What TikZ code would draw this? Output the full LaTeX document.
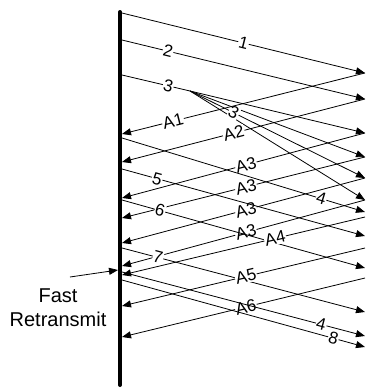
\documentclass[tikz,border=0pt]{standalone}
\usepackage{fontspec}
\setmainfont{Liberation Sans}
\usetikzlibrary{arrows.meta}

\begin{document}
\begin{tikzpicture}[
    x=1pt, y=-1pt,
    timeline/.style={line width=4pt, line cap=round, draw=black},
    msg/.style={-{Triangle[length=9pt, width=7pt]}, line width=0.8pt, draw=black},
    plain/.style={line width=0.8pt, draw=black},
    seglabel/.style={fill=white, inner sep=0.6pt, sloped, font=\fontsize{17}{17}\selectfont},
    note/.style={align=center, font=\fontsize{20}{24}\selectfont}
]
    \useasboundingbox (0,0) rectangle (366,389);

    % Sender time line
    \coordinate (top) at (120,12);
    \coordinate (bottom) at (120,385);
    \draw[timeline] (top) -- (bottom);

    % Sender side: data departures
    \coordinate (s1) at (122,13);
    \coordinate (s2) at (122,40);
    \coordinate (s3) at (122,75);
    \coordinate (s4) at (122,138);
    \coordinate (s5) at (122,169);
    \coordinate (s6) at (122,200);
    \coordinate (s7) at (122,248);
    \coordinate (s4r) at (122,272);
    \coordinate (s8) at (122,280);

    % Sender side: ack arrivals
    \coordinate (a1) at (122,134);
    \coordinate (a2) at (122,162);
    \coordinate (a3a) at (122,198);
    \coordinate (a3b) at (122,218);
    \coordinate (a3c) at (122,243);
    \coordinate (a3d) at (122,266);
    \coordinate (a4) at (122,275);
    \coordinate (a5) at (122,306);
    \coordinate (a6) at (122,337);

    % Receiver side: data arrivals
    \coordinate (r1) at (365,73);
    \coordinate (r2) at (365,99);
    \coordinate (r3a) at (365,133);
    \coordinate (r3b) at (365,157);
    \coordinate (r3c) at (365,178);
    \coordinate (r3d) at (365,200);
    \coordinate (r4) at (365,212);
    \coordinate (r5) at (365,236);
    \coordinate (r6) at (365,268);
    \coordinate (r7) at (365,312);
    \coordinate (r4r) at (365,336);
    \coordinate (r8) at (365,347);

    % Receiver side: later acks
    \coordinate (k4) at (365,217);
    \coordinate (k5) at (365,248);
    \coordinate (k6) at (365,278);

    % Segment 3 gets duplicated
    \coordinate (dup) at (190,91);

    % Data segments
    \draw[msg] (s1) -- node[seglabel, pos=0.5] {1} (r1);
    \draw[msg] (s2) -- node[seglabel, pos=0.19] {2} (r2);
    \draw[plain] (s3) -- node[seglabel, pos=0.68] {3} (dup);
    \foreach \r in {r3a, r3b, r3c, r3d}
        \draw[msg] (dup) -- (\r);
    \path (dup) -- node[seglabel, pos=0.25] {3} (r3c);

    % Acks
    \draw[msg] (r1) -- node[seglabel, pos=0.79] {A1} (a1);
    \draw[msg] (r2) -- node[seglabel, pos=0.54] {A2} (a2);
    \foreach \r/\a in {r3a/a3a, r3b/a3b, r3c/a3c, r3d/a3d}
        \draw[msg] (\r) -- node[seglabel, pos=0.49] {A3} (\a);

    \draw[msg] (s4) -- node[seglabel, pos=0.82] {4} (r4);
    \draw[msg] (s5) -- node[seglabel, pos=0.145] {5} (r5);
    \draw[msg] (s6) -- node[seglabel, pos=0.156] {6} (r6);
    \draw[msg] (k4) -- node[seglabel, pos=0.37] {A4} (a4);
    \draw[msg] (s7) -- node[seglabel, pos=0.148] {7} (r7);
    \draw[msg] (k5) -- node[seglabel, pos=0.49] {A5} (a5);
    \draw[msg] (k6) -- node[seglabel, pos=0.49] {A6} (a6);
    \draw[msg] (s4r) -- node[seglabel, pos=0.82] {4} (r4r);
    \draw[msg] (s8) -- node[seglabel, pos=0.87] {8} (r8);

    % Fast retransmit note
    \node[note] (fastrt) at (58,308) {Fast\\Retransmit};
    \coordinate (frtail) at (70,277);
    \coordinate (frtip) at (118,270);
    \draw[msg] (frtail) -- (frtip);

\end{tikzpicture}
\end{document}
